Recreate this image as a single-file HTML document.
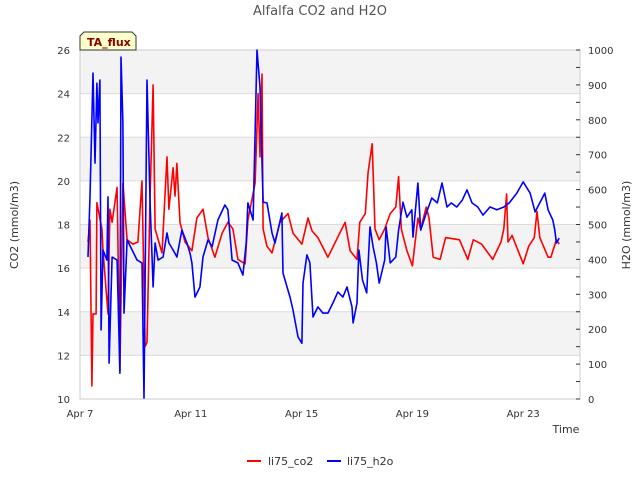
<!DOCTYPE html>
<html><head><meta charset="utf-8"><style>
body{margin:0;background:#fff;}
svg{font-family:"DejaVu Sans","Liberation Sans",sans-serif;}
</style></head><body>
<svg width="640" height="480" viewBox="0 0 640 480" xmlns="http://www.w3.org/2000/svg">
<rect x="0" y="0" width="640" height="480" fill="#fff"/>
<text x="320" y="15" text-anchor="middle" font-size="13" fill="#555">Alfalfa CO2 and H2O</text>
<g id="bands"></g>
<g id="axes"></g>
<g id="series"></g>
<g>
<path d="M80,50 L80,36 L84,32 L132,32 L136,36 L136,50 Z" fill="#ffffcc" stroke="#333" stroke-width="1"/>
<text x="87" y="46" font-size="11" font-weight="bold" fill="#8b0000">TA_flux</text>
</g>
<text x="566" y="433" text-anchor="middle" font-size="11" fill="#333">Time</text>
<text transform="translate(18,225) rotate(-90)" text-anchor="middle" font-size="11" fill="#333">CO2 (mmol/m3)</text>
<text transform="translate(630,225) rotate(-90)" text-anchor="middle" font-size="11" fill="#333">H2O (mmol/m3)</text>
<g>
<g><line x1="247" y1="461" x2="261" y2="461" stroke="#ff0000" stroke-width="2"/><text x="268" y="465" font-size="11" fill="#333">li75_co2</text></g>
<g><line x1="327" y1="461" x2="341" y2="461" stroke="#0000ff" stroke-width="2"/><text x="347" y="465" font-size="11" fill="#333">li75_h2o</text></g>
</g>
</svg>
<script>
const xTickLabels=["Apr 7","Apr 11","Apr 15","Apr 19","Apr 23"];
const xTickDays=[0,4,8,12,16];
const co2Ticks=[10,12,14,16,18,20,22,24,26];
const h2oTicks=[0,100,200,300,400,500,600,700,800,900,1000];
const co2Days=[0.29,0.36,0.43,0.47,0.58,0.61,0.79,0.83,1.01,1.08,1.16,1.34,1.44,1.55,1.70,1.91,2.09,2.24,2.35,2.42,2.53,2.64,2.71,2.96,3.14,3.21,3.36,3.43,3.50,3.61,3.79,4.04,4.22,4.44,4.62,4.87,5.13,5.34,5.52,5.70,5.96,6.06,6.32,6.43,6.50,6.57,6.61,6.75,6.93,7.22,7.51,7.69,8.01,8.23,8.38,8.59,8.95,9.57,9.75,10.0,10.1,10.3,10.4,10.55,10.65,10.8,11.0,11.2,11.4,11.5,11.6,11.8,12.0,12.2,12.3,12.5,12.6,12.75,13.0,13.2,13.7,14.0,14.2,14.5,14.9,15.2,15.3,15.4,15.45,15.6,16.0,16.2,16.4,16.5,16.6,16.9,17.0,17.2,17.3];
const co2Values=[17.2,18.2,10.6,13.9,13.9,19.0,17.8,16.8,13.9,18.7,18.1,19.7,11.3,19.9,17.3,17.1,17.2,20.0,12.4,12.6,19.3,24.4,17.8,16.7,21.1,18.7,20.6,19.3,20.8,18.1,17.2,16.8,18.3,18.7,17.4,16.5,17.6,18.1,17.8,16.4,16.2,18.2,19.9,24.0,21.1,24.9,17.8,17.0,16.7,18.1,18.5,17.6,17.1,18.3,17.7,17.4,16.5,18.1,16.8,16.4,18.1,18.5,20.4,21.7,17.8,17.3,17.8,18.5,18.8,20.2,17.8,16.8,16.1,18.3,17.8,18.8,18.3,16.5,16.4,17.4,17.3,16.4,17.3,17.1,16.4,17.2,17.8,19.4,17.2,17.5,16.2,17.0,17.4,18.6,17.4,16.5,16.5,17.3,17.1];
const h2oDays=[0.29,0.36,0.47,0.54,0.61,0.65,0.72,0.76,0.83,0.97,1.01,1.05,1.16,1.34,1.44,1.48,1.55,1.59,1.70,1.88,2.06,2.24,2.31,2.42,2.53,2.64,2.71,2.82,3.00,3.14,3.21,3.36,3.50,3.68,3.86,3.97,4.04,4.15,4.33,4.44,4.62,4.77,4.98,5.23,5.34,5.49,5.70,5.88,6.00,6.06,6.25,6.39,6.50,6.61,6.75,6.93,7.04,7.29,7.33,7.58,7.69,7.87,8.01,8.05,8.19,8.30,8.41,8.59,8.77,8.95,9.13,9.31,9.49,9.64,9.82,9.86,10.0,10.07,10.2,10.35,10.47,10.58,10.7,10.8,11.0,11.05,11.2,11.4,11.5,11.66,11.8,11.98,12.02,12.2,12.3,12.5,12.7,12.9,13.07,13.25,13.4,13.6,13.8,13.97,14.15,14.36,14.55,14.8,15.05,15.3,15.5,15.77,16.0,16.25,16.43,16.6,16.78,16.9,17.07,17.14,17.2,17.3];
const h2oValues=[407,579,934,676,905,791,914,198,427,398,579,103,407,398,74,980,791,246,456,427,398,390,3,914,562,321,447,398,407,476,447,427,407,484,447,418,390,292,321,407,456,436,513,556,542,398,390,355,447,562,513,1000,894,564,562,476,447,533,361,292,255,178,160,332,413,390,235,264,246,246,275,307,292,321,264,218,275,427,341,304,493,436,390,332,398,493,390,407,484,564,521,542,464,619,484,533,576,562,619,550,562,550,570,599,562,550,527,550,542,550,562,590,622,590,536,562,590,542,513,484,447,461];

const NS="http://www.w3.org/2000/svg";
const X0=80,X1=580,Y0=50,Y1=399,PXD=27.7;
const xs=d=>X0+d*PXD;
const yCo2=v=>Y1-(v-10)/16*(Y1-Y0);
const yH2o=v=>Y1-v/1000*(Y1-Y0);
function mk(tag,attrs,parent){const e=document.createElementNS(NS,tag);for(const k in attrs)e.setAttribute(k,attrs[k]);parent.appendChild(e);return e;}
const bands=document.getElementById('bands'),axes=document.getElementById('axes'),series=document.getElementById('series');
// bands
for(let i=0;i<co2Ticks.length-1;i++){
  if(i%2===1){const r=mk('rect',{x:X0,y:yCo2(co2Ticks[i+1]),width:X1-X0,height:yCo2(co2Ticks[i])-yCo2(co2Ticks[i+1]),fill:'#f3f3f3'},bands);
  
  }
}
co2Ticks.forEach(t=>{
  const l=mk('line',{x1:X0,x2:X1,y1:yCo2(t),y2:yCo2(t),stroke:'#dcdcdc','stroke-width':1},bands);
  
  
  const tx=mk('text',{x:70,y:yCo2(t)+4,'text-anchor':'end','font-size':10,fill:'#333'},axes);
  tx.textContent=t;
  
  
});
const frame=mk('rect',{x:X0,y:Y0,width:X1-X0,height:Y1-Y0,fill:'none',stroke:'#ccc','stroke-width':1},axes);


h2oTicks.forEach(t=>{
  mk('line',{x1:X1-4,x2:X1,y1:yH2o(t),y2:yH2o(t),stroke:'#333'},axes);
  if(t<1000)mk('line',{x1:X1-4,x2:X1,y1:yH2o(t+50),y2:yH2o(t+50),stroke:'#333'},axes);
  const tx=mk('text',{x:588,y:yH2o(t)+4,'font-size':10,fill:'#333'},axes);
  tx.textContent=t;
  
  
});
xTickDays.forEach((d,i)=>{
  const tx=mk('text',{x:xs(d),y:417,'text-anchor':'middle','font-size':10,fill:'#333'},axes);
  tx.textContent=xTickLabels[i];
  
  
});
function line(days,vals,yf,color,name){
  const p=mk('polyline',{points:days.map((d,i)=>xs(d).toFixed(1)+','+yf(vals[i]).toFixed(1)).join(' '),fill:'none',stroke:color,'stroke-width':1.6,'stroke-linejoin':'round'},series);
  
  
}
line(co2Days,co2Values,yCo2,'#ff0000','co2-line');
line(h2oDays,h2oValues,yH2o,'#0000ff','h2o-line');
</script>
</body></html>
